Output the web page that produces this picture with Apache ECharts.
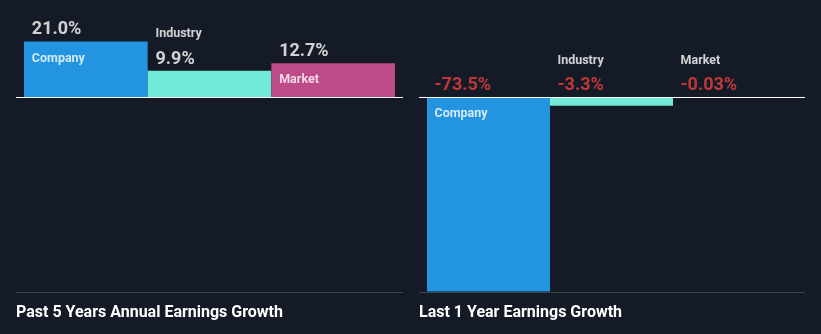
<!DOCTYPE html>
<html>
<head>
<meta charset="utf-8">
<script src="https://cdn.jsdelivr.net/npm/echarts@6/dist/echarts.min.js"></script>
<style>
  html, body { margin: 0; padding: 0; background: #151b26; }
  #chart { width: 821px; height: 334px; }
</style>
</head>
<body>
<div id="chart"></div>
<script>
// Earnings growth comparison: company vs industry vs market
const categories = ['Company', 'Industry', 'Market'];
const pastFiveYearsGrowth = [21.0, 9.9, 12.7];
const lastOneYearGrowth = [-73.5, -3.3, -0.03];
const panelTitles = ['Past 5 Years Annual Earnings Growth', 'Last 1 Year Earnings Growth'];
const barColors = ['#2394df', '#71e9d7', '#bc4b87'];

const BG = '#151b26';
const TEXT = '#ffffff';
const NEG = '#e8403f';
const FONT = 'Roboto, "Noto Sans", sans-serif';

// shared value range so both panels use the same scale and baseline
const Y_MIN = -73.7;
const Y_MAX = 30.6;
const PX_PER_UNIT = 276 / (Y_MAX - Y_MIN);

function formatPct(v) {
  const digits = Math.abs(v) < 0.1 ? 2 : 1;
  return v.toFixed(digits) + '%';
}

function barSeries(values, gridIndex) {
  return {
    type: 'bar',
    xAxisIndex: gridIndex,
    yAxisIndex: gridIndex,
    barWidth: '100%',
    silent: true,
    data: values.map((v, i) => ({ value: v, itemStyle: { color: barColors[i] } })),
    z: 2
  };
}

const plainText = { textBorderWidth: 0, textBorderColor: 'transparent', textShadowBlur: 0 };

// labels are anchored on the top edge of each bar (the baseline for negative bars)
function labelSeries(values, gridIndex) {
  const anchors = values.map((v, i) => [i, Math.max(v, 0)]);
  const valueLabels = {
    type: 'scatter',
    xAxisIndex: gridIndex,
    yAxisIndex: gridIndex,
    symbolSize: 0,
    silent: true,
    z: 5,
    data: anchors.map((a, i) => ({
      value: a,
      label: Object.assign({
        show: true,
        position: 'inside',
        align: 'left',
        verticalAlign: 'middle',
        offset: [-54, -11.5],
        formatter: formatPct(values[i]),
        color: values[i] < 0 ? NEG : TEXT,
        fontFamily: FONT,
        fontSize: 18,
        fontWeight: 'bold'
      }, plainText)
    }))
  };
  const nameLabels = {
    type: 'scatter',
    xAxisIndex: gridIndex,
    yAxisIndex: gridIndex,
    symbolSize: 0,
    silent: true,
    z: 5,
    data: anchors.map((a, i) => {
      const tall = Math.abs(values[i]) * PX_PER_UNIT >= 30;
      return {
        value: a,
        label: Object.assign({
          show: true,
          position: 'inside',
          align: 'left',
          verticalAlign: 'middle',
          offset: [-54, tall ? 17 : -36.5],
          formatter: categories[i],
          color: TEXT,
          fontFamily: FONT,
          fontSize: 12.5,
          fontWeight: 'bold'
        }, plainText)
      };
    })
  };
  return [valueLabels, nameLabels];
}

const chart = echarts.init(document.getElementById('chart'), null, { renderer: 'canvas' });

const titleStyle = { color: TEXT, fontFamily: FONT, fontSize: 16, fontWeight: 'bold' };

const option = {
  backgroundColor: BG,
  animation: false,
  grid: [
    { left: 24, top: 16, width: 371, height: 276 },
    { left: 427, top: 16, width: 369, height: 276 }
  ],
  xAxis: [0, 1].map(g => ({
    type: 'category',
    gridIndex: g,
    data: categories,
    show: false
  })),
  yAxis: [0, 1].map(g => ({
    type: 'value',
    gridIndex: g,
    min: Y_MIN,
    max: Y_MAX,
    show: false
  })),
  title: [
    { text: panelTitles[0], left: 16, top: 305, padding: 0, textStyle: titleStyle },
    { text: panelTitles[1], left: 419, top: 305, padding: 0, textStyle: titleStyle }
  ],
  graphic: [
    // zero baselines
    { type: 'line', shape: { x1: 16, y1: 97.5, x2: 403, y2: 97.5 }, style: { stroke: '#ffffff', lineWidth: 1 }, z: 10 },
    { type: 'line', shape: { x1: 419, y1: 97.5, x2: 805, y2: 97.5 }, style: { stroke: '#ffffff', lineWidth: 1 }, z: 10 },
    // bottom separators
    { type: 'line', shape: { x1: 16, y1: 292.5, x2: 403, y2: 292.5 }, style: { stroke: '#3d424d', lineWidth: 1 }, z: 10 },
    { type: 'line', shape: { x1: 419, y1: 292.5, x2: 805, y2: 292.5 }, style: { stroke: '#3d424d', lineWidth: 1 }, z: 10 }
  ],
  series: [
    barSeries(pastFiveYearsGrowth, 0),
    barSeries(lastOneYearGrowth, 1),
    ...labelSeries(pastFiveYearsGrowth, 0),
    ...labelSeries(lastOneYearGrowth, 1)
  ]
};

chart.setOption(option);
</script>
</body>
</html>
